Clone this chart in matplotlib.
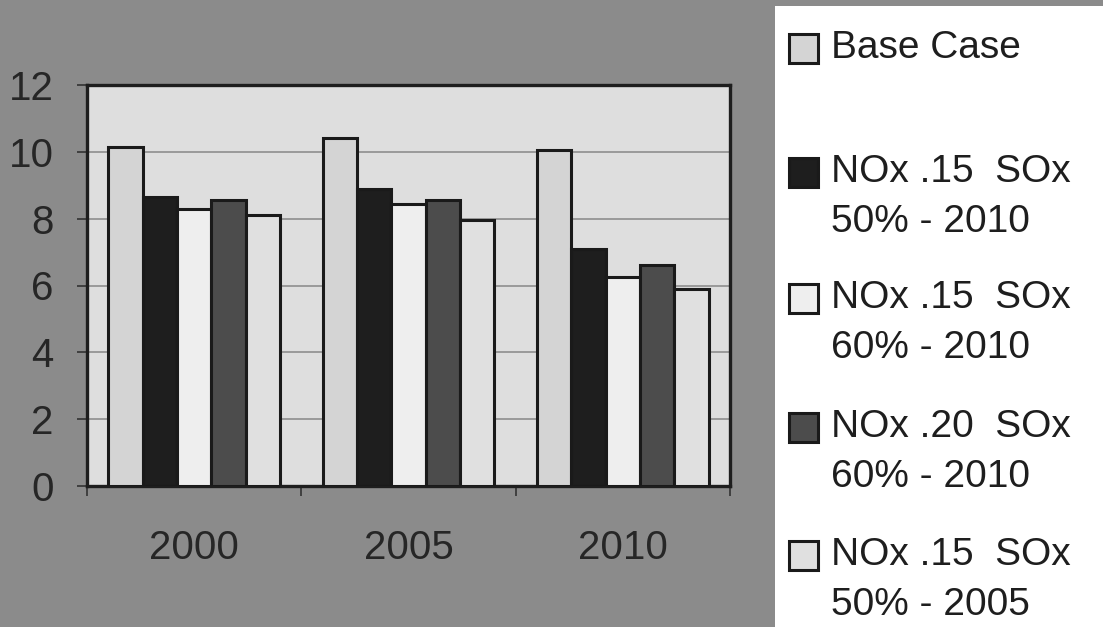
import matplotlib.pyplot as plt
import numpy as np
from matplotlib.patches import Rectangle

plt.rcParams['font.family'] = ['Liberation Sans', 'DejaVu Sans']

# data
years = ['2000', '2005', '2010']
series_names = ['Base Case',
                'NOx .15  SOx\n50% - 2010',
                'NOx .15  SOx\n60% - 2010',
                'NOx .20  SOx\n60% - 2010',
                'NOx .15  SOx\n50% - 2005']
base_case = [10.15, 10.4, 10.05]
nox15_sox50_2010 = [8.65, 8.9, 7.1]
nox15_sox60_2010 = [8.3, 8.45, 6.25]
nox20_sox60_2010 = [8.55, 8.55, 6.6]
nox15_sox50_2005 = [8.1, 7.95, 5.9]
y_ticks = [0, 2, 4, 6, 8, 10, 12]

series = [base_case, nox15_sox50_2010, nox15_sox60_2010,
          nox20_sox60_2010, nox15_sox50_2005]
fills = ['#d4d4d4', '#1e1e1e', '#eeeeee', '#4c4c4c', '#e0e0e0']

W, H = 1103, 627
fig = plt.figure(figsize=(W / 100, H / 100), dpi=100)
fig.patch.set_facecolor('#8b8b8b')

ax = fig.add_axes([87 / W, 1 - 486 / H, (730 - 87) / W, (486 - 85) / H])
ax.set_facecolor('#dedede')

x = np.arange(len(years))
bw = 0.16
for i, (vals, col) in enumerate(zip(series, fills)):
    ax.bar(x + (i - 2) * bw, vals, bw, color=col, edgecolor='#1a1a1a',
           linewidth=2.2, zorder=3, label=series_names[i])

ax.set_xlim(-0.5, 2.5)
ax.set_ylim(0, 12)
ax.set_yticks(y_ticks)
ax.set_xticks(x)
ax.set_xticklabels(years)
ax.set_xticks([-0.5, 0.5, 1.5, 2.5], minor=True)
ax.yaxis.grid(True, color='#9a9a9a', linewidth=1.4, zorder=0)
ax.set_axisbelow(True)

ax.tick_params(axis='y', direction='out', length=7, width=1.2, color='#333333',
               labelsize=29, labelcolor='#262626', pad=17)
ax.tick_params(axis='x', which='major', length=0, labelsize=29,
               labelcolor='#262626', pad=31)
ax.tick_params(axis='x', which='minor', direction='out', length=7, width=1.2,
               color='#333333')
for s in ax.spines.values():
    s.set_linewidth(2.4)
    s.set_color('#1e1e1e')

# legend panel on the right, white box reaching the figure edges
lax = fig.add_axes([775 / W, 0, (W - 775) / W, 1 - 6 / H])
lax.set_xlim(775, W)
lax.set_ylim(H, 6)
lax.set_facecolor('white')
lax.set_xticks([])
lax.set_yticks([])
for s in lax.spines.values():
    s.set_visible(False)

first_line_y = [48, 172, 298, 427, 555]
line_gap = 50
for name, col, yy in zip(series_names, fills, first_line_y):
    lax.add_patch(Rectangle((789, yy - 14), 29, 29, facecolor=col,
                            edgecolor='#1a1a1a', linewidth=2.2))
    for k, line in enumerate(name.split('\n')):
        lax.text(831, yy + k * line_gap, line, fontsize=28, color='#1e1e1e',
                 va='center', ha='left')

fig.savefig('out.png', dpi=100, facecolor=fig.get_facecolor())
